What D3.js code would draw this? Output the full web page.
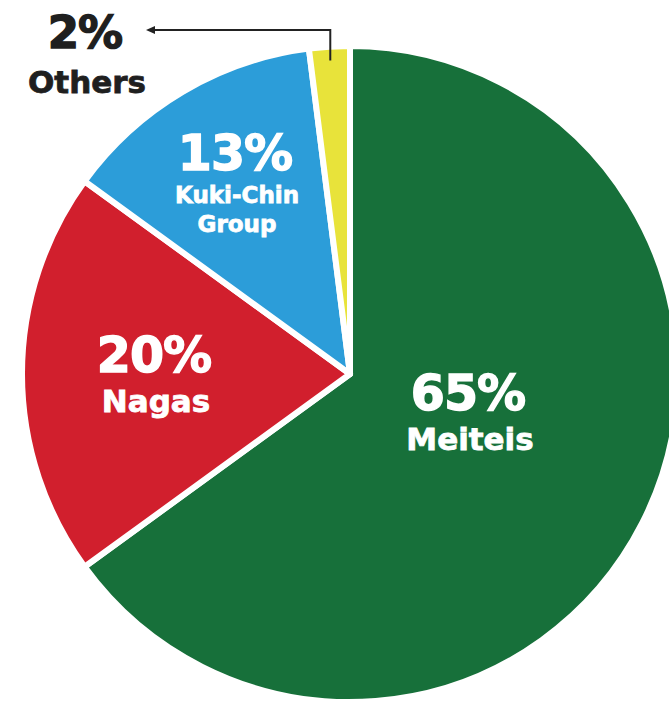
<html>
<head>
<script src="https://cdn.jsdelivr.net/npm/d3@7"></script>
<style>
  body { margin: 0; background: #fff; overflow: hidden; }
  .pct, .name { font-family: "DejaVu Sans", sans-serif; font-weight: bold; }
</style>
</head>
<body>
<svg width="669" height="705"></svg>
<script>
  // data
  var groups = ["Meiteis", "Nagas", "Kuki-Chin Group", "Others"];
  var shares = [65, 20, 13, 2];
  var colors = ["#17703a", "#d11f2d", "#2c9dd9", "#e8e33a"];

  // label layout: centre x, baseline of the % line, name lines below it
  var labelX = [468, 154, 235, 85];
  var labelY = [410, 372, 170, 48];
  var nameLines = [["Meiteis"], ["Nagas"], ["Kuki-Chin", "Group"], ["Others"]];
  var textColor = ["#ffffff", "#ffffff", "#ffffff", "#1f1f1f"];

  var cx = 350, cy = 374, radius = 328;

  var svg = d3.select("svg");
  var g = svg.append("g").attr("transform", "translate(" + cx + "," + cy + ")");

  var pie = d3.pie().sort(null).value(function(d){ return d; });
  var arc = d3.arc().innerRadius(0).outerRadius(radius);
  var arcs = pie(shares);

  g.selectAll("path").data(arcs).enter()
    .append("path")
    .attr("d", arc)
    .attr("fill", function(d, i){ return colors[i]; })
    .attr("stroke", "#fff")
    .attr("stroke-width", 6)
    .attr("stroke-linejoin", "round");

  // pointer for the small slice
  var oth = arcs[3];
  var mid = (oth.startAngle + oth.endAngle) / 2;
  var px = cx + Math.sin(mid) * (radius - 14);
  var py = cy - Math.cos(mid) * (radius - 14);
  svg.append("path")
    .attr("d", "M" + px + "," + py + " V30 H153")
    .attr("fill", "none")
    .attr("stroke", "#222")
    .attr("stroke-width", 2);
  svg.append("path")
    .attr("d", "M146,30 L155,26 L155,34 Z")
    .attr("fill", "#222");

  // labels (a thin stroke in the same colour makes them heavier)
  var lab = svg.selectAll("g.lab").data(groups).enter()
    .append("g").attr("class", "lab");

  lab.append("text")
    .attr("class", "pct")
    .attr("x", function(d, i){ return labelX[i]; })
    .attr("y", function(d, i){ return labelY[i]; })
    .attr("text-anchor", "middle")
    .attr("fill", function(d, i){ return textColor[i]; })
    .attr("stroke", function(d, i){ return textColor[i]; })
    .attr("stroke-width", 1.4)
    .style("font-size", function(d, i){ return i == 3 ? "45px" : "49px"; })
    .style("letter-spacing", "-1px")
    .text(function(d, i){ return shares[i] + "%"; });

  lab.each(function(d, i){
    var t = d3.select(this);
    var two = nameLines[i].length > 1;
    nameLines[i].forEach(function(line, j){
      t.append("text")
        .attr("class", "name")
        .attr("x", labelX[i] + 2)
        .attr("y", labelY[i] + (two ? 33 + j * 29 : (i == 3 ? 45 : 40)))
        .attr("text-anchor", "middle")
        .attr("fill", textColor[i])
        .attr("stroke", textColor[i])
        .attr("stroke-width", 0.8)
        .style("font-size", two ? "23px" : "31px")
        .text(line);
    });
  });
</script>
</body>
</html>
